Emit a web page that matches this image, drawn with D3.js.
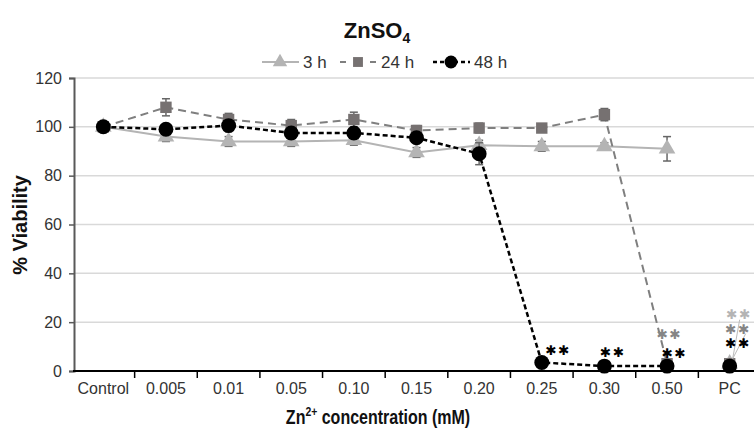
<!DOCTYPE html>
<html>
<head>
<meta charset="utf-8">
<script src="https://cdn.jsdelivr.net/npm/d3@7"></script>
<style>
  body { margin: 0; background: #fff; }
  svg text { font-family: "Liberation Sans", Arial, sans-serif; }
</style>
</head>
<body>
<div id="chart"></div>
<script>
const categories = ['Control', '0.005', '0.01', '0.05', '0.10', '0.15', '0.20', '0.25', '0.30', '0.50', 'PC'];
const yTicks = [0, 20, 40, 60, 80, 100, 120];

const viability3h = [100, 96, 94, 94, 94.5, 89.5, 92.5, 92, 92, 91, 3];
const error3h = [1, 2, 2, 2, 2, 2, 2, 2, 1.5, 5, 0.5];
const viability24h = [100, 108, 103, 100.5, 103, 98.5, 99.5, 99.5, 105, 3, 3];
const error24h = [1, 3.5, 2.5, 2.5, 3, 2, 2, 0.5, 2.5, 0.5, 0.5];
const viability48h = [100, 99, 100.5, 97.5, 97.5, 95.5, 89, 3.5, 2, 2, 2];
const error48h = [1, 1, 1, 1.5, 1.5, 2, 4.5, 0.5, 0.5, 0.5, 0.5];

// significance (**) marks
const sigMarks = [
  { cat: '0.25', series: '48 h' },
  { cat: '0.30', series: '48 h' },
  { cat: '0.50', series: '24 h' },
  { cat: '0.50', series: '48 h' },
  { cat: 'PC', series: '3 h' },
  { cat: 'PC', series: '24 h' },
  { cat: 'PC', series: '48 h' }
];

const W = 754, H = 437;
const svg = d3.select('#chart').append('svg')
  .attr('width', W).attr('height', H);

const x = d3.scaleBand().domain(categories).range([72, 761]);
const y = d3.scaleLinear().domain([0, 120]).range([371, 78]);
const cx = c => x(c) + x.bandwidth() / 2;

const series = [
  { name: '3 h', values: viability3h, errors: error3h, color: '#b4b4b4', markColor: '#b4b4b4', starColor: '#b4b4b4', dash: null, width: 2, symbol: d3.symbolTriangle, size: 120 },
  { name: '24 h', values: viability24h, errors: error24h, color: '#7f7f7f', markColor: '#767171', starColor: '#858585', dash: '8,5', width: 2, symbol: d3.symbolSquare, size: 130 },
  { name: '48 h', values: viability48h, errors: error48h, color: '#000', markColor: '#000', starColor: '#000', dash: '5,3', width: 2.5, symbol: d3.symbolCircle, size: 175 }
];

// gridlines
svg.append('g')
  .selectAll('line')
  .data(yTicks.filter(t => t > 0))
  .join('line')
  .attr('x1', 74).attr('x2', W)
  .attr('y1', d => y(d)).attr('y2', d => y(d))
  .attr('stroke', '#d9d9d9').attr('stroke-width', 1.5);

// y axis
const yAxis = svg.append('g')
  .attr('transform', 'translate(74,0)')
  .call(d3.axisLeft(y).tickValues(yTicks).tickSize(5).tickPadding(7));
yAxis.select('.domain').attr('stroke', '#595959').attr('stroke-width', 2);
yAxis.selectAll('.tick line').attr('stroke', '#595959').attr('stroke-width', 1.5);
yAxis.selectAll('text').attr('font-size', 16).attr('fill', '#333')
  .style('font-family', '"Liberation Sans", Arial, sans-serif');

// x axis
const xAxis = svg.append('g')
  .attr('transform', 'translate(0,371)')
  .call(d3.axisBottom(x).tickSize(0).tickPadding(12));
xAxis.select('.domain').remove();
xAxis.selectAll('text').attr('font-size', 16).attr('fill', '#333')
  .style('font-family', '"Liberation Sans", Arial, sans-serif');
svg.append('line')
  .attr('x1', 73).attr('x2', W).attr('y1', 371).attr('y2', 371)
  .attr('stroke', '#000').attr('stroke-width', 2);
svg.append('g')
  .selectAll('line')
  .data(categories.slice(1))
  .join('line')
  .attr('x1', d => x(d)).attr('x2', d => x(d))
  .attr('y1', 371).attr('y2', 378)
  .attr('stroke', '#000').attr('stroke-width', 1.5);

// lines (PC not connected)
const line = d3.line()
  .x((d, i) => cx(categories[i]))
  .y(d => y(d));

series.forEach(s => {
  const g = svg.append('g');
  g.append('path')
    .datum(s.values.slice(0, categories.length - 1))
    .attr('d', line)
    .attr('fill', 'none')
    .attr('stroke', s.color)
    .attr('stroke-width', s.width)
    .attr('stroke-dasharray', s.dash);

  // error bars
  const eb = g.append('g').attr('stroke', '#666').attr('stroke-width', 1.5);
  s.values.forEach((v, i) => {
    const px = cx(categories[i]);
    const e = s.errors[i];
    if (e < 1) return;
    eb.append('line').attr('x1', px).attr('x2', px).attr('y1', y(v - e)).attr('y2', y(v + e));
    eb.append('line').attr('x1', px - 4).attr('x2', px + 4).attr('y1', y(v - e)).attr('y2', y(v - e));
    eb.append('line').attr('x1', px - 4).attr('x2', px + 4).attr('y1', y(v + e)).attr('y2', y(v + e));
  });

  g.selectAll('path.mark')
    .data(s.values)
    .join('path')
    .attr('class', 'mark')
    .attr('d', d3.symbol().type(s.symbol).size(s.size))
    .attr('transform', (d, i) => `translate(${cx(categories[i])},${y(d)})`)
    .attr('fill', s.markColor);
});

// leader lines at PC
const pcx = cx('PC');
const pcy = y(viability24h[10]);
[[10, -44], [16, -30]].forEach(o => {
  svg.append('line')
    .attr('x1', pcx + o[0]).attr('y1', pcy + o[1])
    .attr('x2', pcx + 3).attr('y2', pcy - 5)
    .attr('stroke', '#bbb').attr('stroke-width', 1);
});

// significance asterisks, offset from the marker they belong to
const sigOffset = {
  '0.25|48 h': [16, -12], '0.30|48 h': [8, -14],
  '0.50|24 h': [2, -32], '0.50|48 h': [7, -13],
  'PC|3 h': [9, -52], 'PC|24 h': [8, -37.5], 'PC|48 h': [8, -23]
};
sigMarks.forEach(m => {
  const s = series.find(d => d.name === m.series);
  const i = categories.indexOf(m.cat);
  const o = sigOffset[m.cat + '|' + m.series];
  svg.append('text')
    .attr('x', cx(m.cat) + o[0])
    .attr('y', y(s.values[i] <= 3 ? 2 : s.values[i]) + o[1] + 5)
    .attr('text-anchor', 'middle')
    .attr('font-size', 13.5)
    .attr('letter-spacing', 1.5)
    .attr('fill', s.starColor)
    .style('font-family', '"DejaVu Sans", sans-serif')
    .text('\u2731\u2731');
});

// legend
const legend = svg.append('g').attr('transform', 'translate(0,62)');
const legendX = [262, 340, 433];
const legendDash = [null, '6,9', '4,3'];
series.forEach((s, k) => {
  const lx = legendX[k];
  legend.append('line')
    .attr('x1', lx).attr('x2', lx + 37).attr('y1', 0).attr('y2', 0)
    .attr('stroke', s.color).attr('stroke-width', s.width)
    .attr('stroke-dasharray', legendDash[k]);
  legend.append('path')
    .attr('d', d3.symbol().type(s.symbol).size(s.size * 0.75))
    .attr('transform', `translate(${lx + 18},0)`)
    .attr('fill', s.markColor);
  legend.append('text')
    .attr('x', lx + 41).attr('y', 6)
    .attr('font-size', 17).attr('fill', '#333')
    .text(s.name);
});

// title
const title = svg.append('text')
  .attr('x', 377).attr('y', 38)
  .attr('text-anchor', 'middle')
  .attr('font-size', 22).attr('font-weight', 'bold').attr('fill', '#111');
title.append('tspan').text('ZnSO');
title.append('tspan').attr('font-size', 14).attr('dy', 5).text('4');

// axis titles
svg.append('text')
  .attr('transform', 'translate(27,225) rotate(-90)')
  .attr('text-anchor', 'middle')
  .attr('font-size', 20).attr('font-weight', 'bold').attr('fill', '#111')
  .text('% Viability');

// x title, condensed horizontally like the original narrow face
const xt = svg.append('text')
  .attr('transform', 'translate(378,424) scale(0.8,1)')
  .attr('text-anchor', 'middle')
  .attr('font-size', 20).attr('font-weight', 'bold').attr('fill', '#111');
xt.append('tspan').text('Zn');
xt.append('tspan').attr('font-size', 13).attr('dy', -8).text('2+');
xt.append('tspan').attr('dy', 8).text(' concentration (mM)');
</script>
</body>
</html>
